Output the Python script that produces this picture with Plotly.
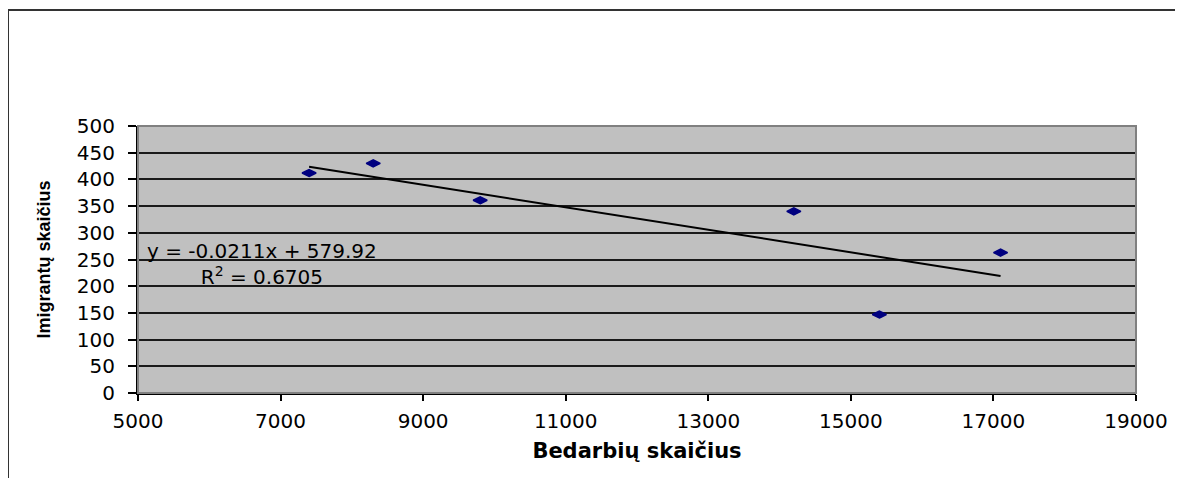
import plotly.graph_objects as go

# Bedarbių ir imigrantų skaičius (taškai nuskaityti nuo grafiko)
bedarbiai = [7400, 8300, 9800, 14200, 15400, 17100]
imigrantai = [412, 430, 361, 340, 147, 263]

# Excel tiesinio trendo parametrai
trend_slope = -0.0211
trend_intercept = 579.92
r_squared = 0.6705

x_ticks = [5000, 7000, 9000, 11000, 13000, 15000, 17000, 19000]
y_ticks = [0, 50, 100, 150, 200, 250, 300, 350, 400, 450, 500]

# puslapio body turi 8px paraštę, todėl figūra pastumta
OFF = 8
W, H = 1183 - OFF, 478 - OFF
ML, MR, MT, MB = 138 - OFF, 47, 126 - OFF, 85


def px_to_paper_x(px):
    return (px - OFF - ML) / (W - ML - MR)


def px_to_paper_y(py):
    return (H - MB - (py - OFF)) / (H - MT - MB)


trend_x = [min(bedarbiai), max(bedarbiai)]
trend_y = [trend_slope * x + trend_intercept for x in trend_x]

fig = go.Figure()

fig.add_trace(go.Scatter(
    x=bedarbiai, y=imigrantai, mode='markers',
    marker=dict(symbol='diamond-wide', size=10, color='#000080',
                line=dict(color='#000080', width=1.5)),
    showlegend=False,
))

fig.add_trace(go.Scatter(
    x=trend_x, y=trend_y, mode='lines',
    line=dict(color='black', width=2),
    showlegend=False,
))

fig.add_annotation(
    x=6734, y=242, xref='x', yref='y',
    text=f"y = {trend_slope}x + {trend_intercept}<br>R<sup>2</sup> = {r_squared}",
    showarrow=False, align='center',
    font=dict(family='DejaVu Sans', size=20, color='black'),
)

# pilkas braižymo srities rėmelis (viršus ir dešinė)
fig.add_shape(type='rect', xref='paper', yref='paper', x0=0, x1=1, y0=0, y1=1,
              line=dict(color='#808080', width=2), layer='above')

# diagramos srities rėmelis (kairė ir viršus)
fx = px_to_paper_x(8)
fy = px_to_paper_y(10)
fig.add_shape(type='line', xref='paper', yref='paper', x0=fx, x1=fx, y0=-1, y1=fy,
              line=dict(color='#333333', width=2))
fig.add_shape(type='line', xref='paper', yref='paper', x0=fx, x1=1.2, y0=fy, y1=fy,
              line=dict(color='#333333', width=2))

fig.update_xaxes(
    range=[5000, 19000], tickvals=x_ticks, ticktext=[str(v) for v in x_ticks],
    showgrid=False, zeroline=False,
    showline=True, linecolor='black', linewidth=2,
    ticks='outside', ticklen=6, tickwidth=2, tickcolor='black', ticklabelstandoff=3,
    tickfont=dict(family='DejaVu Sans', size=20, color='black'),
    title=dict(text='Bedarbių skaičius', standoff=11,
               font=dict(family='DejaVu Sans', size=21, weight='bold', color='black')),
)

fig.update_yaxes(
    range=[0, 500], tickvals=y_ticks, ticktext=[str(v) for v in y_ticks],
    showgrid=True, gridcolor='#1a1a1a', gridwidth=1.5,
    zeroline=False, showline=True, linecolor='black', linewidth=2,
    ticks='outside', ticklen=8, tickwidth=2, tickcolor='black', ticklabelstandoff=9,
    tickfont=dict(family='DejaVu Sans', size=20, color='black'),
    title=dict(text='Imigrantų skaičius', standoff=22,
               font=dict(family='Liberation Sans, Arial', size=18, weight='bold', color='black')),
)

fig.update_layout(
    width=W, height=H,
    margin=dict(l=ML, r=MR, t=MT, b=MB),
    plot_bgcolor='#C0C0C0', paper_bgcolor='white',
    showlegend=False,
)

fig.write_html("out.html")
